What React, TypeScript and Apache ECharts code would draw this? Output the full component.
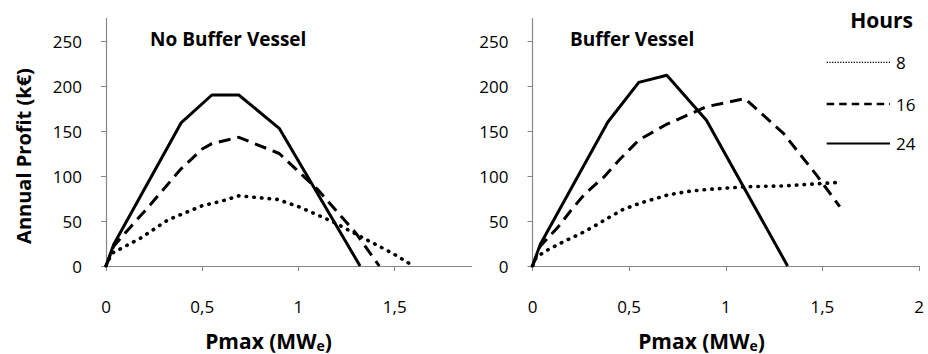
import React, { useEffect, useRef } from "react";
import * as echarts from "echarts";

// Pmax (MWe) vs annual profit (k€) per storage duration, without a buffer vessel
const noBuf8X = [0, 0.03, 0.18, 0.32, 0.5, 0.6, 0.69, 0.89, 1.0, 1.18, 1.32, 1.49, 1.59];
const noBuf8Y = [0, 14, 31, 51, 67, 72, 78, 74, 66, 49, 33, 14, 1];
const noBuf16X = [0, 0.04, 0.13, 0.23, 0.39, 0.5, 0.55, 0.69, 0.9, 1.1, 1.3, 1.42];
const noBuf16Y = [0, 22, 44, 68, 108, 130, 136, 143, 125, 85, 36, 0];
const noBuf24X = [0, 0.04, 0.39, 0.55, 0.69, 0.9, 1.32];
const noBuf24Y = [0, 24, 159, 190, 190, 153, 0];

// Same quantities with a buffer vessel
const buf8X = [0, 0.02, 0.08, 0.16, 0.24, 0.31, 0.38, 0.47, 0.56, 0.7, 0.81, 0.9, 1.1, 1.3, 1.59];
const buf8Y = [0, 10, 18, 27, 35, 43, 52, 63, 70, 79, 83, 85, 88, 89, 93];
const buf16X = [0, 0.04, 0.135, 0.2, 0.27, 0.37, 0.45, 0.5, 0.55, 0.69, 0.9, 1.1, 1.3, 1.47, 1.59];
const buf16Y = [0, 22, 44, 62, 80, 99, 118, 129, 140, 157, 177, 186, 147, 101, 66];
const buf24X = [0, 0.04, 0.39, 0.55, 0.695, 0.9, 1.32];
const buf24Y = [0, 24, 160, 204, 212, 162, 0];

const hours = ["8", "16", "24"];
const yTicks = [0, 50, 100, 150, 200, 250];
const xTicksLeft = [0, 0.5, 1, 1.5];
const xTicksRight = [0, 0.5, 1, 1.5, 2];
const panelTitles = ["No Buffer Vessel", "Buffer Vessel"];
const xTitle = "Pmax (MW";
const xTitleSub = "e";
const yTitle = "Annual Profit (k€)";
const legendTitle = "Hours";

const FONT = "'Open Sans', 'Liberation Sans', sans-serif";
const AXIS_GREY = "#868686";

const pairs = (xs: number[], ys: number[]) => xs.map((x, i) => [x, ys[i]]);
const comma = (v: number) => String(v).replace(".", ",");

// stroke styles of the plotted curves
const lineTypes: Record<string, any> = {
  "8": { width: 3.6, type: [0.5, 7.2], cap: "round" },
  "16": { width: 3, type: [12, 7], cap: "butt" },
  "24": { width: 3, type: "solid", cap: "butt" },
};

// stroke styles of the legend keys
const keyStyles: Record<string, any> = {
  "8": { lineWidth: 1.3, lineDash: [1.3, 1.4] },
  "16": { lineWidth: 2.4, lineDash: [7.5, 5] },
  "24": { lineWidth: 2, lineDash: null },
};

function xAxisOf(gridIndex: number, max: number, ticks: number[]) {
  return {
    type: "value",
    gridIndex,
    min: 0,
    max,
    interval: 0.5,
    axisLine: { show: true, onZero: false, lineStyle: { color: AXIS_GREY, width: 1.2 } },
    axisTick: { show: true, length: 5, inside: false, customValues: ticks, lineStyle: { color: AXIS_GREY } },
    axisLabel: {
      customValues: ticks,
      margin: 32,
      fontSize: 17,
      color: "#000",
      fontFamily: FONT,
      formatter: (v: number) => comma(v),
    },
    splitLine: { show: false },
  };
}

function yAxisOf(gridIndex: number) {
  return {
    type: "value",
    gridIndex,
    min: 0,
    max: 275,
    interval: 50,
    axisLine: { show: true, lineStyle: { color: AXIS_GREY, width: 1.2 } },
    axisTick: { show: true, length: 5, inside: false, customValues: yTicks, lineStyle: { color: AXIS_GREY } },
    axisLabel: {
      customValues: yTicks,
      margin: 24,
      fontSize: 17,
      color: "#000",
      fontFamily: FONT,
    },
    splitLine: { show: false },
  };
}

function xTitleText(cx: number) {
  return {
    type: "text",
    x: cx,
    y: 341,
    style: {
      text: `{a|${xTitle}}{b|${xTitleSub}}{a|)}`,
      rich: {
        a: { fontSize: 21, fontWeight: "bold", fontFamily: FONT, fill: "#000", lineHeight: 22 },
        b: {
          fontSize: 14,
          fontWeight: "bold",
          fontFamily: FONT,
          fill: "#000",
          lineHeight: 14,
          verticalAlign: "bottom",
        },
      },
      align: "center",
      verticalAlign: "middle",
    },
  };
}

export default function App() {
  const ref = useRef<HTMLDivElement>(null);

  useEffect(() => {
    if (!ref.current) return;
    const chart = echarts.init(ref.current, undefined, { renderer: "svg" });

    const panels = [
      [pairs(noBuf8X, noBuf8Y), pairs(noBuf16X, noBuf16Y), pairs(noBuf24X, noBuf24Y)],
      [pairs(buf8X, buf8Y), pairs(buf16X, buf16Y), pairs(buf24X, buf24Y)],
    ];

    const series: any[] = [];
    panels.forEach((set, p) => {
      set.forEach((data, i) => {
        series.push({
          type: "line",
          name: hours[i],
          xAxisIndex: p,
          yAxisIndex: p,
          data,
          symbol: "none",
          smooth: false,
          lineStyle: { color: "#000", ...lineTypes[hours[i]] },
          z: 3 - i,
        });
      });
    });

    // legend keys: a short stroke followed by the hours label
    const keyRows = [62.3, 104, 143.5];
    const legendKeys: any[] = [];
    hours.forEach((h, i) => {
      legendKeys.push({
        type: "line",
        shape: { x1: 826.7, y1: keyRows[i], x2: 890, y2: keyRows[i] },
        style: { stroke: "#000", ...keyStyles[h] },
      });
      legendKeys.push({
        type: "text",
        x: 896,
        y: keyRows[i],
        style: { text: h, fontSize: 17, fontFamily: FONT, fill: "#000", align: "left", verticalAlign: "middle" },
      });
    });

    chart.setOption({
      animation: false,
      backgroundColor: "#fff",
      grid: [
        { left: 106, top: 18.5, width: 365.7, height: 247.5 },
        { left: 532.5, top: 18.5, width: 386.5, height: 247.5 },
      ],
      xAxis: [xAxisOf(0, 1.9, xTicksLeft), xAxisOf(1, 2, xTicksRight)],
      yAxis: [yAxisOf(0), yAxisOf(1)],
      graphic: [
        {
          type: "text",
          left: 150,
          top: 29,
          style: { text: panelTitles[0], fontSize: 19, fontWeight: "bold", fontFamily: FONT, fill: "#000" },
        },
        {
          type: "text",
          left: 570,
          top: 29,
          style: { text: panelTitles[1], fontSize: 19, fontWeight: "bold", fontFamily: FONT, fill: "#000" },
        },
        {
          type: "text",
          x: 913,
          y: 20,
          style: {
            text: legendTitle,
            fontSize: 21,
            fontWeight: "bold",
            fontFamily: FONT,
            fill: "#000",
            align: "right",
            verticalAlign: "middle",
          },
        },
        {
          type: "text",
          x: 23,
          y: 156,
          rotation: Math.PI / 2,
          style: {
            text: yTitle,
            fontSize: 20,
            fontWeight: "bold",
            fontFamily: FONT,
            fill: "#000",
            align: "center",
            verticalAlign: "middle",
          },
        },
        xTitleText(268.5),
        xTitleText(701.5),
        ...legendKeys,
      ],
      series,
    });

    return () => chart.dispose();
  }, []);

  return (
    <div
      ref={ref}
      style={{ position: "fixed", left: 0, top: 0, width: 928, height: 354, background: "#fff" }}
    />
  );
}
